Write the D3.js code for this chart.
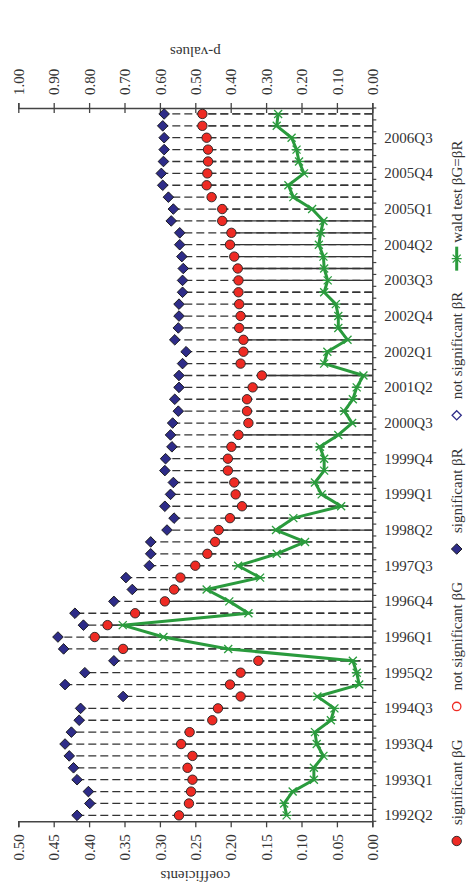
<!DOCTYPE html>
<html><head><meta charset="utf-8">
<script src="https://cdn.jsdelivr.net/npm/d3@7"></script>
<style>
body{margin:0;background:#fff}
text{font-family:"Liberation Serif","Times New Roman",serif;fill:#333}
</style>
</head><body>
<svg id="c" width="468" height="886"></svg>
<script>
const quarters = [
"1992Q2","1992Q3","1992Q4",
"1993Q1","1993Q2","1993Q3","1993Q4",
"1994Q1","1994Q2","1994Q3","1994Q4",
"1995Q1","1995Q2","1995Q3","1995Q4",
"1996Q1","1996Q2","1996Q3","1996Q4",
"1997Q1","1997Q2","1997Q3","1997Q4",
"1998Q1","1998Q2","1998Q3","1998Q4",
"1999Q1","1999Q2","1999Q3","1999Q4",
"2000Q1","2000Q2","2000Q3","2000Q4",
"2001Q1","2001Q2","2001Q3","2001Q4",
"2002Q1","2002Q2","2002Q3","2002Q4",
"2003Q1","2003Q2","2003Q3","2003Q4",
"2004Q1","2004Q2","2004Q3","2004Q4",
"2005Q1","2005Q2","2005Q3","2005Q4",
"2006Q1","2006Q2","2006Q3","2006Q4",
"2007Q1"];

const betaG = [
0.273,0.259,0.256,0.254,0.261,0.254,0.270,0.258,0.226,0.218,
0.186,0.201,0.186,0.161,0.352,0.392,0.374,0.335,0.293,0.280,
0.271,0.250,0.233,0.222,0.217,0.201,0.184,0.193,0.195,0.204,
0.204,0.199,0.189,0.175,0.177,0.177,0.169,0.156,0.186,0.182,
0.182,0.188,0.186,0.188,0.189,0.189,0.190,0.195,0.201,0.199,
0.212,0.212,0.227,0.234,0.233,0.232,0.232,0.234,0.240,0.240];

const betaR = [
0.417,0.399,0.401,0.417,0.422,0.428,0.434,0.425,0.414,0.412,
0.352,0.434,0.406,0.365,0.436,0.444,0.408,0.420,0.365,0.339,
0.348,0.315,0.313,0.313,0.290,0.280,0.293,0.285,0.281,0.293,
0.292,0.283,0.285,0.282,0.274,0.279,0.273,0.273,0.268,0.263,
0.279,0.274,0.273,0.273,0.268,0.268,0.267,0.269,0.272,0.272,
0.284,0.281,0.288,0.296,0.298,0.295,0.294,0.294,0.296,0.294];

const waldP = [
0.242,0.249,0.225,0.165,0.165,0.138,0.157,0.162,0.117,0.107,
0.155,0.037,0.044,0.055,0.407,0.590,0.705,0.350,0.404,0.468,
0.317,0.379,0.270,0.190,0.272,0.223,0.088,0.143,0.162,0.136,
0.136,0.148,0.096,0.057,0.079,0.055,0.044,0.025,0.136,0.127,
0.070,0.096,0.096,0.103,0.136,0.126,0.136,0.138,0.151,0.146,
0.138,0.170,0.223,0.237,0.193,0.207,0.214,0.228,0.270,0.266];

// significance flags (1 = filled marker); all markers in the picture are filled
const sigG = quarters.map(() => 1);
const sigR = quarters.map(() => 1);
// quarters whose βG drop line is drawn unbroken in the picture
const gSolidQuarters = ["1996Q1","1996Q2","1996Q4","1998Q2","2000Q2","2001Q3","2002Q2",
  "2003Q3","2003Q4","2004Q1","2004Q2","2004Q3","2004Q4"];

const coefTicks = [0,0.05,0.10,0.15,0.20,0.25,0.30,0.35,0.40,0.45,0.50];
const pTicks = [0,0.1,0.2,0.3,0.4,0.5,0.6,0.7,0.8,0.9,1.0];
const labelEvery = 3;

const legendItems = ["significant βG","not significant βG","significant βR","not significant βR","wald test βG=βR"];

// ---------- layout ----------
const L = 18.3, R = 372.3, T = 108, B = 821.3;
const RED = "#ee2b24", NAVY = "#2e2c88", GREEN = "#2a9b3d", AX = "#444";

const svg = d3.select("#c");
const xC = d3.scaleLinear().domain([0, 0.5]).range([R, L]);
const xP = d3.scaleLinear().domain([0, 1]).range([R, L]);
const y = d3.scaleBand().domain(quarters).range([B, T]);
const bw = y.bandwidth();
const yc = q => y(q) + bw / 2;

// drop lines (drawn from the zero axis outward)
const gLines = svg.append("g");
quarters.forEach((q, i) => {
  gLines.append("path")
    .attr("d", `M${R},${yc(q)}H${xC(betaR[i])}`)
    .attr("stroke", "#333").attr("stroke-width", 1.3).attr("fill", "none")
    .attr("stroke-dasharray", "8,4");
  const solid = gSolidQuarters.includes(q);
  gLines.append("path")
    .attr("d", `M${R},${yc(q)}H${xC(betaG[i])}`)
    .attr("stroke", "#333").attr("stroke-width", 1.3).attr("fill", "none")
    .attr("stroke-dasharray", solid ? null : "8,4");
});

// bottom axis (coefficients)
const axB = svg.append("g").attr("transform", `translate(0,${B})`)
  .call(d3.axisBottom(xC).tickValues(coefTicks).tickFormat(d3.format(".2f")).tickSizeOuter(0).tickSize(6));
axB.select(".domain").attr("stroke", AX).attr("stroke-width", 1.5);
axB.selectAll(".tick line").attr("stroke", AX).attr("stroke-width", 1.3);
axB.selectAll(".tick text")
  .attr("transform", "rotate(-90)").attr("x", -13).attr("y", 0).attr("dy", "0.35em")
  .attr("text-anchor", "end").style("font-size", "15px").attr("fill", "#333");

// top axis (p-values)
const axT = svg.append("g").attr("transform", `translate(0,${T})`)
  .call(d3.axisTop(xP).tickValues(pTicks).tickFormat(d3.format(".2f")).tickSizeOuter(0).tickSize(5));
axT.select(".domain").attr("stroke", AX).attr("stroke-width", 1.5);
axT.selectAll(".tick line").attr("y1", 5).attr("y2", -5).attr("stroke", AX).attr("stroke-width", 1.3);
axT.selectAll(".tick text")
  .attr("transform", "rotate(-90)").attr("x", 13).attr("y", 0).attr("dy", "0.35em")
  .attr("text-anchor", "start").style("font-size", "15px").attr("fill", "#333");

// right category axis
const axR = svg.append("g").attr("transform", `translate(${R},0)`)
  .call(d3.axisRight(y).tickValues(quarters.filter((q, i) => i % labelEvery === 0)).tickSize(0).tickPadding(12));
axR.select(".domain").attr("stroke", AX).attr("stroke-width", 1.5);
axR.selectAll(".tick text").style("font-size", "15px").attr("fill", "#333");
svg.append("g").selectAll("line").data(d3.range(quarters.length + 1)).join("line")
  .attr("x1", R).attr("x2", R + 4)
  .attr("y1", i => B - i * bw).attr("y2", i => B - i * bw)
  .attr("stroke", AX).attr("stroke-width", 1.2);

// axis titles
svg.append("text").attr("transform", `translate(${(L + R) / 2},876) rotate(180)`)
  .attr("text-anchor", "middle").attr("dy", "0.35em").style("font-size", "15px").text("coefficients");
svg.append("text").attr("transform", `translate(${(L + R) / 2},52) rotate(180)`)
  .attr("text-anchor", "middle").attr("dy", "0.35em").style("font-size", "15px").text("p-values");

// markers
const diamond = s => `M0,${-s}L${s},0L0,${s}L${-s},0Z`;
svg.append("g").selectAll("path").data(quarters).join("path")
  .attr("transform", (q, i) => `translate(${xC(betaR[i])},${yc(q)})`)
  .attr("d", diamond(5.3))
  .attr("fill", (q, i) => sigR[i] ? NAVY : "#fff")
  .attr("stroke", (q, i) => sigR[i] ? "#111" : NAVY).attr("stroke-width", 0.9);
svg.append("g").selectAll("circle").data(quarters).join("circle")
  .attr("cx", (q, i) => xC(betaG[i])).attr("cy", q => yc(q)).attr("r", 4.7)
  .attr("fill", (q, i) => sigG[i] ? RED : "#fff")
  .attr("stroke", (q, i) => sigG[i] ? "#222" : RED).attr("stroke-width", 0.9);

// wald line
const line = d3.line().x(d => xP(d)).y((d, i) => yc(quarters[i]));
svg.append("path").datum(waldP).attr("d", line)
  .attr("fill", "none").attr("stroke", GREEN).attr("stroke-width", 3).attr("stroke-linejoin", "round");
const star = "M-4,-4L4,4M-4,4L4,-4M-5,0L5,0";
svg.append("g").selectAll("path").data(waldP).join("path")
  .attr("transform", (d, i) => `translate(${xP(d)},${yc(quarters[i])})`)
  .attr("d", star).attr("stroke", GREEN).attr("stroke-width", 1.3).attr("fill", "none");

// legend (reads bottom-to-top along right edge)
const LX = 456.7;
const lg = svg.append("g");
let ly = 851;
legendItems.forEach((t, k) => {
  const sc = ly - 10;
  if (k === 0) lg.append("circle").attr("cx", LX).attr("cy", sc).attr("r", 4.7).attr("fill", RED).attr("stroke", "#222").attr("stroke-width", 0.9);
  if (k === 1) lg.append("circle").attr("cx", LX).attr("cy", sc).attr("r", 4.2).attr("fill", "#fff").attr("stroke", RED).attr("stroke-width", 1.3);
  if (k === 2) lg.append("path").attr("transform", `translate(${LX},${sc})`).attr("d", diamond(5.3)).attr("fill", NAVY).attr("stroke", "#111").attr("stroke-width", 0.9);
  if (k === 3) lg.append("path").attr("transform", `translate(${LX},${sc})`).attr("d", diamond(4.6)).attr("fill", "#fff").attr("stroke", NAVY).attr("stroke-width", 1.3);
  if (k === 4) {
    lg.append("line").attr("x1", LX).attr("x2", LX).attr("y1", sc + 12).attr("y2", sc - 12).attr("stroke", GREEN).attr("stroke-width", 3);
    lg.append("path").attr("transform", `translate(${LX},${sc})`).attr("d", star).attr("stroke", GREEN).attr("stroke-width", 1.3).attr("fill", "none");
  }
  const tx = lg.append("text").attr("transform", `translate(${LX},${ly - 26}) rotate(-90)`)
    .attr("dy", "0.35em").style("font-size", "15px").text(t);
  const len = tx.node().getComputedTextLength();
  ly = ly - 26 - len - 23;
});
</script>
</body></html>
